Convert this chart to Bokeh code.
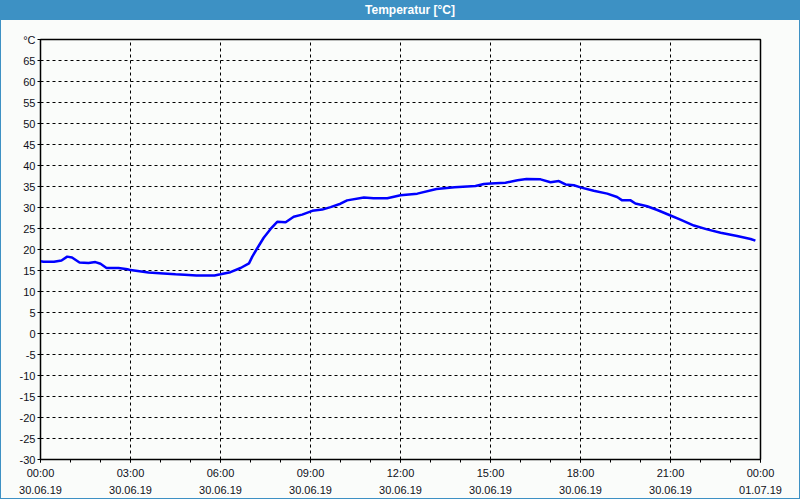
from bokeh.plotting import figure
from bokeh.models import FixedTicker, Div, ColumnDataSource
from bokeh.layouts import column
from bokeh.embed import file_html
from bokeh.resources import INLINE

# time in hours since 30.06.19 00:00
hours = [0.0, 0.1, 0.45, 0.7, 0.89, 1.05, 1.3, 1.6, 1.83, 2.0, 2.2, 2.6, 2.9, 3.0, 3.3,
         3.6, 4.1, 4.5, 4.8, 5.2, 5.8, 6.0, 6.33, 6.67, 6.95, 7.06, 7.2, 7.44, 7.67, 7.89,
         8.17, 8.44, 8.72, 9.06, 9.39, 9.67, 10.0, 10.22, 10.78, 11.1, 11.56, 12.0, 12.56,
         13.2, 13.8, 14.5, 14.78, 15.0, 15.5, 15.9, 16.2, 16.67, 17.0, 17.28, 17.5, 17.78,
         18.0, 18.44, 18.89, 19.22, 19.39, 19.67, 19.83, 20.22, 20.56, 21.0, 21.33, 21.78,
         22.22, 22.67, 23.22, 23.67, 23.83]
temps = [17.2, 17.1, 17.1, 17.4, 18.3, 18.1, 16.9, 16.8, 17.0, 16.6, 15.6, 15.6, 15.3, 15.1, 14.8,
         14.5, 14.3, 14.1, 14.0, 13.8, 13.8, 14.1, 14.6, 15.6, 16.7, 18.3, 20.0, 22.8, 24.9, 26.6,
         26.5, 27.8, 28.3, 29.2, 29.5, 30.1, 30.9, 31.7, 32.4, 32.2, 32.2, 32.9, 33.3,
         34.4, 34.8, 35.1, 35.6, 35.7, 35.9, 36.5, 36.8, 36.7, 36.0, 36.3, 35.5, 35.3,
         34.8, 34.0, 33.3, 32.5, 31.7, 31.7, 30.95, 30.3, 29.4, 28.1, 27.1, 25.7,
         24.8, 24.0, 23.2, 22.5, 22.1]

x_ticks = [0, 3, 6, 9, 12, 15, 18, 21, 24]
x_labels = ["00:00\n30.06.19", "03:00\n30.06.19", "06:00\n30.06.19", "09:00\n30.06.19",
            "12:00\n30.06.19", "15:00\n30.06.19", "18:00\n30.06.19", "21:00\n30.06.19",
            "00:00\n01.07.19"]
y_ticks = list(range(-30, 75, 5))
title_text = "Temperatur [°C]"
unit_label = "°C"

BG = "#FAFCFA"
BLUE = "#3D91C4"
FONT = "Liberation Sans"

src = ColumnDataSource(dict(h=hours, t=temps))

p = figure(title=None, frame_width=720, frame_height=420, x_range=(0, 24), y_range=(-30, 70),
           output_backend="svg", toolbar_location=None, margin=(0, 0, 0, 0),
           min_border_left=39, min_border_right=39, min_border_top=19, min_border_bottom=39)
p.line("h", "t", source=src, line_color="#0000FF", line_width=2.5)

p.background_fill_color = BG
p.border_fill_color = BG
p.outline_line_color = "black"
p.outline_line_width = 1.5

p.xaxis.ticker = FixedTicker(ticks=x_ticks, minor_ticks=list(range(0, 25)))
p.xaxis.major_label_overrides = {t: l for t, l in zip(x_ticks, x_labels)}
p.yaxis.ticker = FixedTicker(ticks=y_ticks, minor_ticks=[])
ov = {t: str(t) for t in y_ticks}
ov[70] = unit_label
p.yaxis.major_label_overrides = ov

for ax in (p.xaxis[0], p.yaxis[0]):
    ax.axis_line_color = "black"
    ax.major_tick_line_color = "black"
    ax.minor_tick_line_color = "black"
    ax.major_tick_in = 0
    ax.major_tick_out = 3
    ax.minor_tick_in = 0
    ax.minor_tick_out = 3
    ax.major_label_text_font = FONT
    ax.major_label_text_font_size = "11px"
    ax.major_label_text_color = "#101020"
    ax.major_label_standoff = 2
p.xaxis.major_label_text_line_height = 1.45
p.xaxis.major_label_standoff = 4

p.xgrid.ticker = FixedTicker(ticks=x_ticks)
p.ygrid.ticker = FixedTicker(ticks=y_ticks)
for g in (p.xgrid[0], p.ygrid[0]):
    g.grid_line_color = "black"
    g.grid_line_dash = "3 3"
    g.grid_line_width = 1

title = Div(text=title_text, width=798, height=20, margin=(0, 0, 0, 0),
            styles={"background-color": BLUE, "color": "white", "font-weight": "bold",
                    "font-family": FONT, "font-size": "12px", "line-height": "20px",
                    "text-align": "center", "padding-left": "20px", "box-sizing": "border-box",
                    "width": "798px", "height": "20px"})

layout = column(title, p, spacing=0, margin=(0, 0, 0, 0),
                styles={"border": "1px solid " + BLUE, "border-top": "0px",
                        "background-color": BG})

with open("out.html", "w") as f:
    f.write(file_html(layout, INLINE))
